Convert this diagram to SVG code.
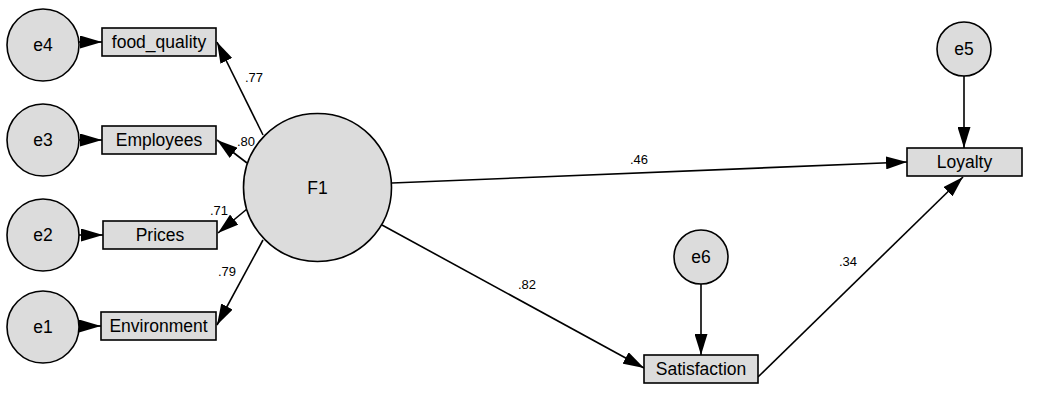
<svg xmlns="http://www.w3.org/2000/svg" width="1039" height="402" viewBox="0 0 1039 402">
<style>
.n{fill:#dcdcdc;stroke:#000;stroke-width:1.6}
.t{font-family:"Liberation Sans",Arial,sans-serif;font-size:17.5px;fill:#000;text-anchor:middle;dominant-baseline:central}
.l{font-family:"Liberation Sans",Arial,sans-serif;font-size:13px;fill:#000;text-anchor:middle}
.c{stroke:#000;stroke-width:1.6;fill:none;marker-end:url(#ah)}
.e{stroke:#000;stroke-width:1.6;fill:none;marker-end:url(#ae)}
</style>
<defs>
<marker id="ah" markerUnits="userSpaceOnUse" markerWidth="22" markerHeight="13" refX="21" refY="6.5" orient="auto">
<path d="M0,0 L21,6.5 L0,13 z" fill="#000"/>
</marker>
<marker id="ae" markerUnits="userSpaceOnUse" markerWidth="23" markerHeight="13" refX="22" refY="6.5" orient="auto">
<path d="M0,0 L22,6.5 L0,13 z" fill="#000"/>
</marker>
</defs>
<rect width="1039" height="402" fill="#fff"/>
<g id="connectors">
<line class="e" x1="79" y1="42" x2="102" y2="42"/>
<line class="e" x1="79" y1="140" x2="102" y2="140"/>
<line class="e" x1="79" y1="235" x2="103" y2="235"/>
<line class="e" x1="79" y1="326" x2="101" y2="326"/>
<line class="c" x1="263" y1="135" x2="217" y2="42"/>
<line class="c" x1="247" y1="163" x2="217" y2="140"/>
<line class="c" x1="247" y1="209" x2="218" y2="233"/>
<line class="c" x1="263" y1="240" x2="217" y2="325"/>
<line class="c" x1="392" y1="183" x2="907" y2="162"/>
<line class="c" x1="382" y1="225" x2="644" y2="368"/>
<line class="c" x1="758" y1="377" x2="963" y2="177"/>
<line class="c" x1="964" y1="76" x2="964" y2="148"/>
<line class="c" x1="701" y1="284" x2="701" y2="355"/>
<text class="l" x="254" y="82">.77</text>
<text class="l" x="246" y="146">.80</text>
<text class="l" x="219" y="215">.71</text>
<text class="l" x="227" y="276">.79</text>
<text class="l" x="639" y="164">.46</text>
<text class="l" x="527" y="289">.82</text>
<text class="l" x="848" y="266">.34</text>
</g>
<g id="e4"><circle class="n" cx="43" cy="45" r="36"/><text class="t" x="43" y="45">e4</text></g>
<g id="e3"><circle class="n" cx="43" cy="140" r="36"/><text class="t" x="43" y="140">e3</text></g>
<g id="e2"><circle class="n" cx="43" cy="235" r="36"/><text class="t" x="43" y="235">e2</text></g>
<g id="e1"><circle class="n" cx="43" cy="327" r="36"/><text class="t" x="43" y="327">e1</text></g>
<g id="food_quality"><rect class="n" x="102" y="28" width="114" height="28"/><text class="t" x="159" y="42">food_quality</text></g>
<g id="Employees"><rect class="n" x="102" y="126" width="114" height="28"/><text class="t" x="159" y="140">Employees</text></g>
<g id="Prices"><rect class="n" x="103" y="221" width="114" height="28"/><text class="t" x="160" y="235">Prices</text></g>
<g id="Environment"><rect class="n" x="101" y="312" width="115" height="28"/><text class="t" x="158.5" y="326">Environment</text></g>
<g id="F1"><circle class="n" cx="317.5" cy="187.5" r="74"/><text class="t" x="317.5" y="187.5">F1</text></g>
<g id="e5"><circle class="n" cx="964" cy="49" r="27"/><text class="t" x="964" y="49">e5</text></g>
<g id="Loyalty"><rect class="n" x="907" y="148" width="115" height="28"/><text class="t" x="964.5" y="162">Loyalty</text></g>
<g id="e6"><circle class="n" cx="701" cy="257" r="27"/><text class="t" x="701" y="257">e6</text></g>
<g id="Satisfaction"><rect class="n" x="644" y="355" width="114" height="28"/><text class="t" x="701" y="369">Satisfaction</text></g>
</svg>
